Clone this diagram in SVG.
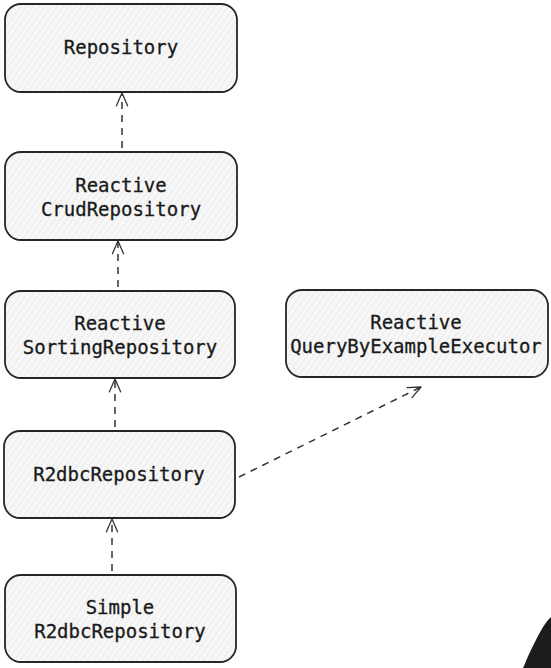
<svg xmlns="http://www.w3.org/2000/svg" width="551" height="668" viewBox="0 0 551 668">
<defs>
<pattern id="hatch" patternUnits="userSpaceOnUse" width="5" height="5" patternTransform="rotate(35)">
<rect width="5" height="5" fill="#f7f7f7"/>
<line x1="0" y1="0" x2="0" y2="5" stroke="#e0e0e0" stroke-width="1"/>
</pattern>
<marker id="arr" viewBox="0 0 20 20" refX="18" refY="10" markerWidth="16" markerHeight="16" markerUnits="userSpaceOnUse" orient="auto">
<path d="M2,3 L18,10 L2,17" fill="none" stroke="#333" stroke-width="1.6" stroke-linecap="round" stroke-linejoin="round"/>
</marker>
<style>
.box{fill:url(#hatch);stroke:#262626;stroke-width:1.8}
.t{font-family:"DejaVu Sans Mono","Liberation Mono",monospace;font-size:19px;fill:#1a1a1a;text-anchor:middle;stroke:#1a1a1a;stroke-width:0.3}
.c{fill:none;stroke:#333;stroke-width:1.5;stroke-dasharray:7 6}
</style>
</defs>
<rect width="551" height="668" fill="#ffffff"/>
<g id="repository">
<rect class="box" x="5" y="4" width="232" height="88" rx="16"/>
<text class="t" x="121" y="54">Repository</text>
</g>
<g id="reactive-crud">
<rect class="box" x="5" y="152" width="232" height="88" rx="16"/>
<text class="t" x="121" y="192">Reactive</text>
<text class="t" x="121" y="216">CrudRepository</text>
</g>
<g id="reactive-sorting">
<rect class="box" x="5" y="291" width="230" height="87" rx="16"/>
<text class="t" x="120" y="330">Reactive</text>
<text class="t" x="120" y="354">SortingRepository</text>
</g>
<g id="reactive-qbe">
<rect class="box" x="286" y="290" width="262" height="87" rx="16"/>
<text class="t" x="416" y="329">Reactive</text>
<text class="t" x="416" y="353">QueryByExampleExecutor</text>
</g>
<g id="r2dbc">
<rect class="box" x="4" y="431" width="231" height="87" rx="16"/>
<text class="t" x="119" y="481">R2dbcRepository</text>
</g>
<g id="simple-r2dbc">
<rect class="box" x="5" y="575" width="231" height="87" rx="16"/>
<text class="t" x="120" y="614">Simple</text>
<text class="t" x="120" y="638">R2dbcRepository</text>
</g>
<g id="connectors">
<path class="c" d="M122,148 L122,93" marker-end="url(#arr)"/>
<path class="c" d="M118,287 L118,241" marker-end="url(#arr)"/>
<path class="c" d="M115,427 L115,379" marker-end="url(#arr)"/>
<path class="c" d="M239,477 L421,387" marker-end="url(#arr)"/>
<path class="c" d="M112,571 L112,519" marker-end="url(#arr)"/>
</g>
<path d="M551,617 C543,624 536,640 530,652 C527,658 525,664 523,668 L551,668 Z" fill="#1c1c1c"/>
</svg>
